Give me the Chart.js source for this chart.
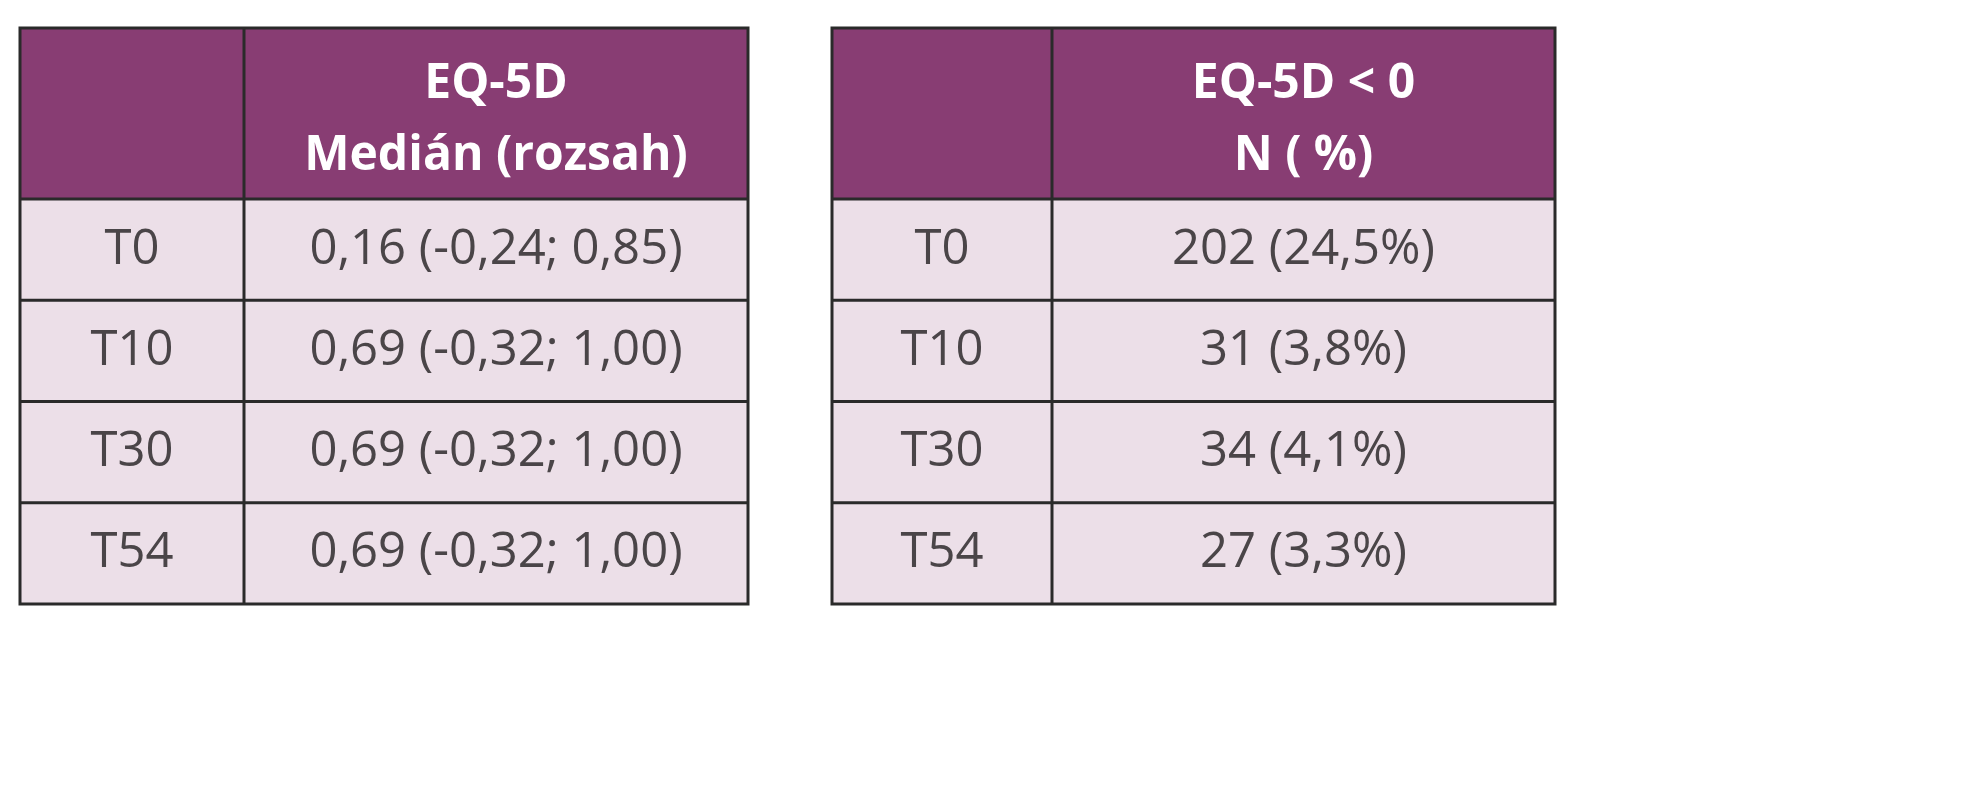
<!DOCTYPE html>
<html><head><meta charset="utf-8">
<script src="https://cdn.jsdelivr.net/npm/chart.js@4"></script>
<style>html,body{margin:0;padding:0;background:#fff}#w{width:1983px;height:800px}</style>
</head><body><div id="w"><canvas id="c"></canvas></div>
<script>
const rowLabels = ["T0","T10","T30","T54"];
const leftHeader = ["EQ-5D","Medián (rozsah)"];
const leftValues = ["0,16 (-0,24; 0,85)","0,69 (-0,32; 1,00)","0,69 (-0,32; 1,00)","0,69 (-0,32; 1,00)"];
const rightHeader = ["EQ-5D < 0","N ( %)"];
const rightValues = ["202 (24,5%)","31 (3,8%)","34 (4,1%)","27 (3,3%)"];

const tables = [
  {x0:20,x1:244,x2:748,header:leftHeader,values:leftValues},
  {x0:832,x1:1052,x2:1555,header:rightHeader,values:rightValues}
];
const yTop=28, yHead=199, rowH=101.25;
const HEAD="#883d73", BODY="#ecdfe8", LINE="#2a2a2a", TXT="#4a4548";

const tablePlugin = {
  id:'table',
  afterDraw(chart){
    const ctx=chart.ctx, sx=chart.scales.x, sy=chart.scales.y;
    const X=v=>sx.getPixelForValue(v), Y=v=>sy.getPixelForValue(v);
    ctx.save();
    tables.forEach(t=>{
      const yEnd=yHead+rowH*rowLabels.length;
      ctx.fillStyle=HEAD; ctx.fillRect(X(t.x0),Y(yTop),X(t.x2)-X(t.x0),Y(yHead)-Y(yTop));
      ctx.fillStyle=BODY; ctx.fillRect(X(t.x0),Y(yHead),X(t.x2)-X(t.x0),Y(yEnd)-Y(yHead));
      ctx.strokeStyle=LINE; ctx.lineWidth=3;
      ctx.strokeRect(X(t.x0),Y(yTop),X(t.x2)-X(t.x0),Y(yEnd)-Y(yTop));
      ctx.beginPath(); ctx.moveTo(X(t.x1),Y(yTop)); ctx.lineTo(X(t.x1),Y(yEnd)); ctx.stroke();
      for(let i=0;i<rowLabels.length;i++){
        const y=yHead+i*rowH;
        ctx.beginPath(); ctx.moveTo(X(t.x0),Y(y)); ctx.lineTo(X(t.x2),Y(y)); ctx.stroke();
      }
      ctx.textAlign='center'; ctx.textBaseline='middle';
      ctx.fillStyle='#fff'; ctx.font='bold 48px "Open Sans", sans-serif';
      const cx=(X(t.x1)+X(t.x2))/2;
      ctx.fillText(t.header[0],cx,Y(84)); ctx.fillText(t.header[1],cx,Y(156));
      ctx.fillStyle=TXT; ctx.font='49px "Open Sans", sans-serif';
      rowLabels.forEach((l,i)=>{
        const cy=Y(yHead+rowH*(i+0.5));
        ctx.fillText(l,(X(t.x0)+X(t.x1))/2,cy);
        ctx.fillText(t.values[i],cx,cy);
      });
    });
    ctx.restore();
  }
};

new Chart(document.getElementById('c'),{
  type:'scatter',
  data:{datasets:[{data:[]}]},
  options:{
    responsive:true, maintainAspectRatio:false, animation:false,
    layout:{padding:0},
    plugins:{legend:{display:false},tooltip:{enabled:false}},
    scales:{
      x:{type:'linear',min:0,max:1983,display:false},
      y:{type:'linear',min:0,max:800,reverse:true,display:false}
    }
  },
  plugins:[tablePlugin]
});
</script></body></html>
